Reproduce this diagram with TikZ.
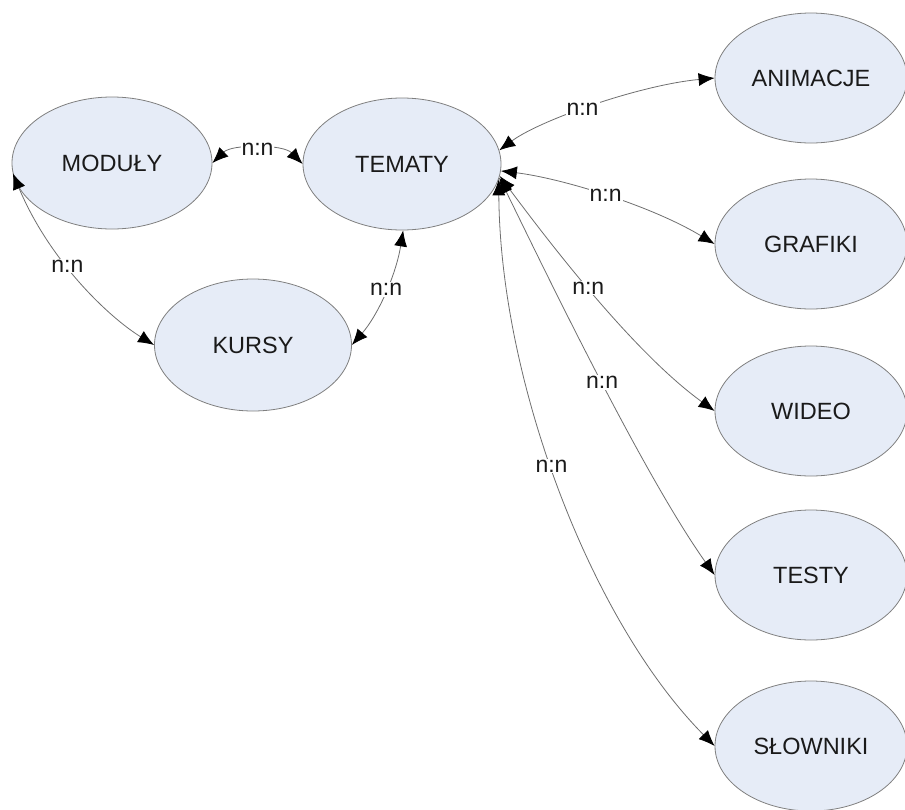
\documentclass[tikz,border=0pt]{standalone}
\usepackage{fontspec}
\setmainfont{Liberation Sans}
\usetikzlibrary{shapes.geometric,arrows.meta}
\definecolor{ellfill}{HTML}{E6ECF7}
\definecolor{ellline}{HTML}{7F7F7F}
\definecolor{conn}{HTML}{6E6E6E}
\definecolor{txt}{HTML}{1A1A1A}
\tikzset{
  ent/.style={ellipse, draw=ellline, line width=0.8pt, fill=ellfill, minimum width=196pt, minimum height=130pt, inner sep=0pt, text=txt, font=\fontsize{23.5}{27}\selectfont},
  rel/.style={draw=conn, line width=0.8pt, {Latex[length=16pt,width=13pt,color=black]}-{Latex[length=16pt,width=13pt,color=black]}},
  lab/.style={fill=white, inner sep=1pt, text=txt, font=\fontsize{23}{27}\selectfont}
}
\begin{document}
\begin{tikzpicture}[x=1pt,y=-1pt]
\useasboundingbox (0,0) rectangle (905,809);
\node[ent, minimum width=200pt, minimum height=132pt] (mod) at (112,163) {MODUŁY};
\node[ent, minimum width=198pt, minimum height=132pt] (tem) at (402,164) {TEMATY};
\node[ent, minimum width=197pt, minimum height=132pt] (kur) at (253,345) {KURSY};
\node[ent, minimum width=192pt] (ani) at (811,78) {ANIMACJE};
\node[ent, minimum width=192pt] (gra) at (811,244) {GRAFIKI};
\node[ent, minimum width=192pt] (wid) at (811,411) {WIDEO};
\node[ent, minimum width=192pt] (tes) at (811,575) {TESTY};
\node[ent, minimum width=192pt] (slo) at (811,746) {SŁOWNIKI};

\draw[rel] (mod.east) .. controls (232,144) and (283,144) .. node[lab, pos=0.5] {n:n} (tem.west);
\draw[rel] (mod.186) .. controls (50,262) and (110,318) .. node[lab, pos=0.41] {n:n} (kur.west);
\draw[rel] (tem.271) .. controls (396,275) and (378,315) .. node[lab, pos=0.47] {n:n} (kur.east);
\draw[rel] (tem.8) .. controls (540,120) and (640,85) .. node[lab, pos=0.45] {n:n} (ani.west);
\draw[rel] (tem.356) .. controls (560,178) and (650,205) .. node[lab, pos=0.5] {n:n} (gra.west);
\draw[rel] (tem.353) .. controls (540,230) and (630,350) .. node[lab, pos=0.49] {n:n} (wid.west);
\draw[rel] (tem.352) .. controls (535,250) and (640,470) .. node[lab, pos=0.54] {n:n} (tes.west);
\draw[rel] (tem.351) .. controls (500,380) and (590,620) .. node[lab, pos=0.46] {n:n} (slo.west);
\end{tikzpicture}
\end{document}
